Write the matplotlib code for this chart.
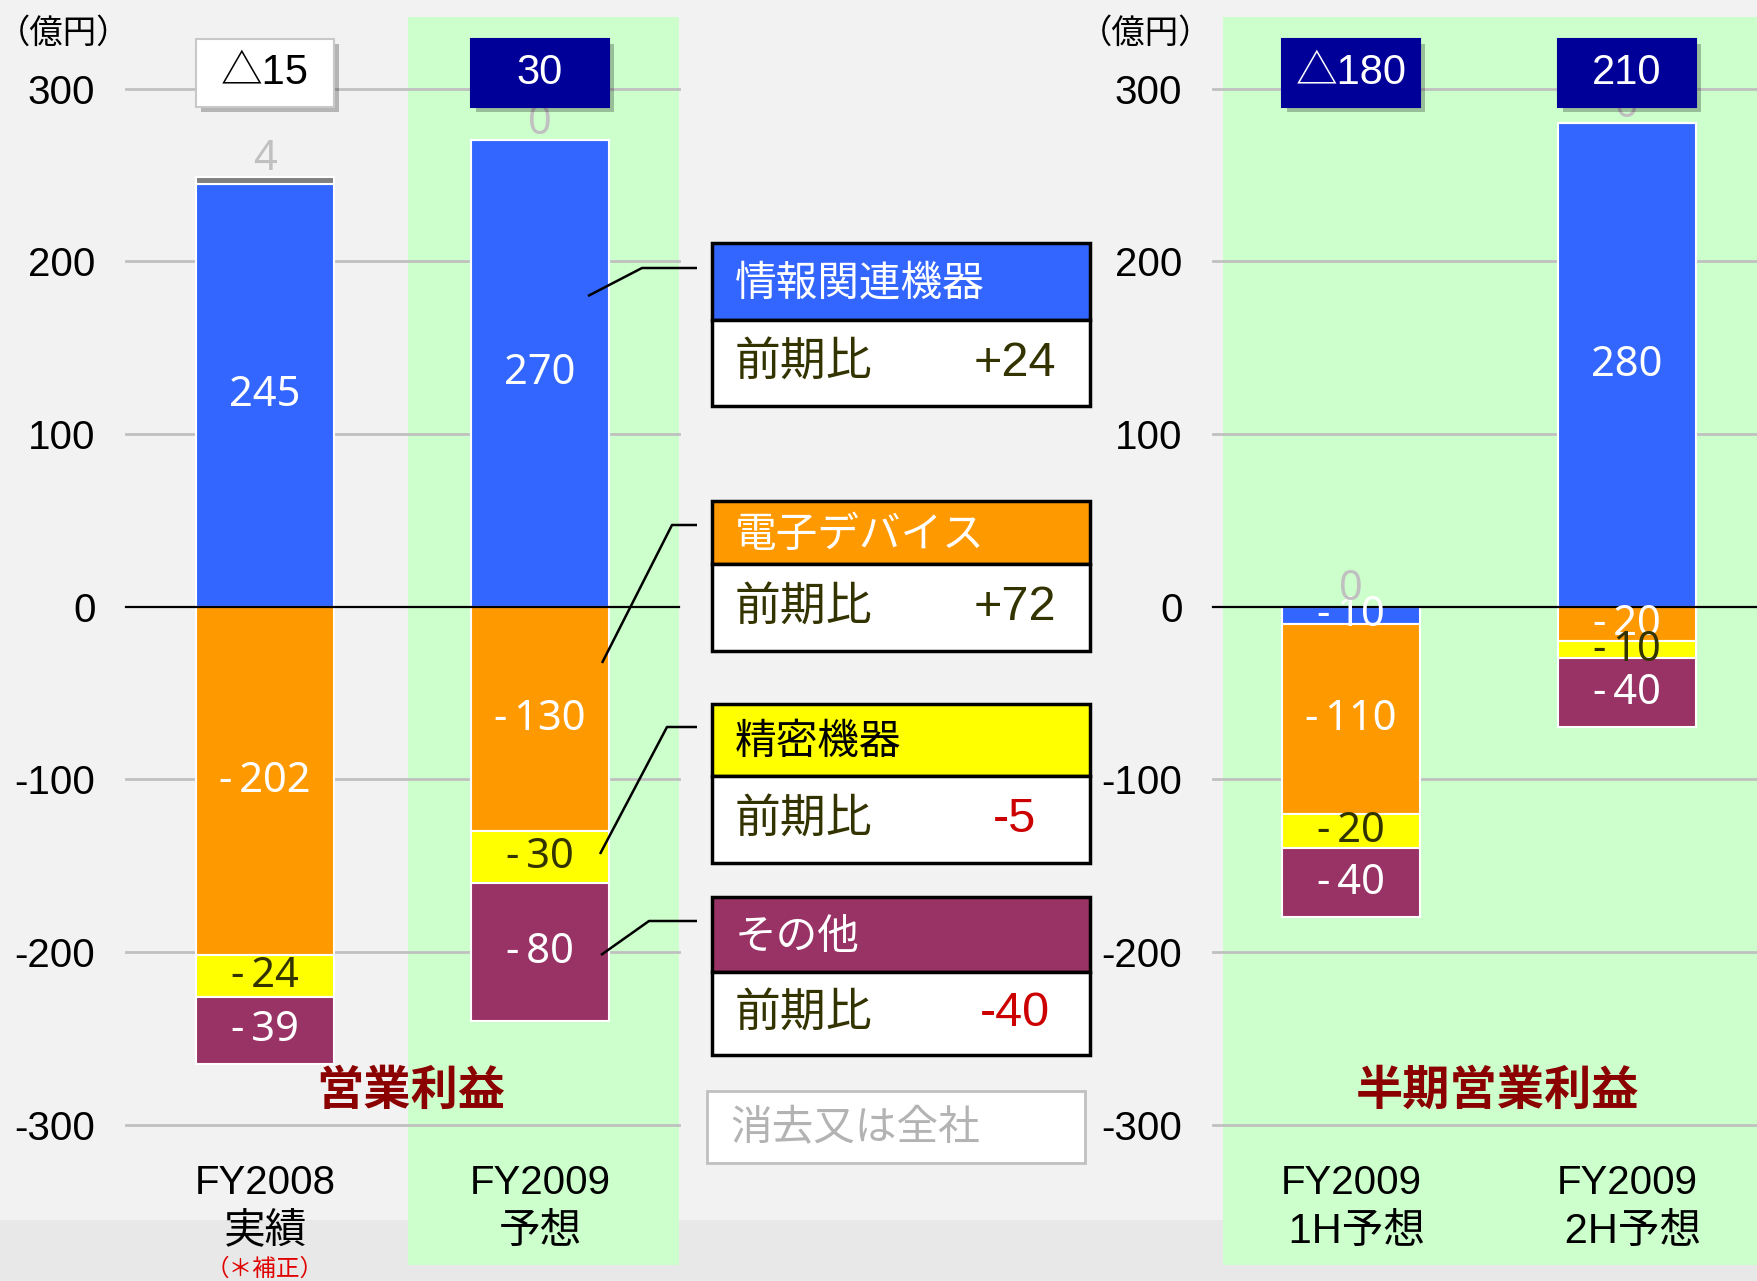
import numpy as np
import matplotlib
matplotlib.use('Agg')
import matplotlib.pyplot as plt
from matplotlib.patches import Rectangle
from matplotlib import patheffects as pe
from matplotlib.transforms import blended_transform_factory

plt.rcParams['font.family'] = ['Liberation Sans', 'Noto Sans CJK JP', 'DejaVu Sans']

# --- data -------------------------------------------------------------
segments = ['情報関連機器', '電子デバイス', '精密機器', 'その他']
seg_colors = ['#3366ff', '#ff9900', '#ffff00', '#993366', '#808080']
value_colors = ['white', 'white', '#333300', 'white', '#c0c0c0']
header_text_colors = ['white', 'white', 'black', 'white']

left_cats = [('FY2008', '実績'), ('FY2009', '予想')]
left_info = [245, 270]
left_device = [-202, -130]
left_precision = [-24, -30]
left_other = [-39, -80]
left_elim = [4, 0]
left_totals = ['△15', '30']
left_forecast = [False, True]

right_cats = [('FY2009', ' 1H予想'), ('FY2009', ' 2H予想')]
right_info = [-10, 280]
right_device = [-110, -20]
right_precision = [-20, -10]
right_other = [-40, -40]
right_elim = [0, 0]
right_totals = ['△180', '210']
right_forecast = [True, True]

yoy_values = ['+24', '+72', '-5', '-40']
yticks = [-300, -200, -100, 0, 100, 200, 300]

W, H = 1758, 1281
fig = plt.figure(figsize=(W / 100, H / 100), dpi=100)


def px_axes(x0, x1, y0, y1):
    return fig.add_axes([x0 / W, 1 - y1 / H, (x1 - x0) / W, (y1 - y0) / H])


# background
bg = px_axes(0, W, 0, H)
bg.set_xlim(0, W)
bg.set_ylim(H, 0)
bg.axis('off')
bg.add_patch(Rectangle((0, 0), W, H, fc='#f2f2f2', ec='none'))
bg.add_patch(Rectangle((0, 1220), W, H - 1220, fc='#e8e8e8', ec='none'))
bg.add_patch(Rectangle((408, 17), 271, 1248, fc='#ccffcc', ec='none'))
bg.add_patch(Rectangle((1223, 17), W - 1223, 1248, fc='#ccffcc', ec='none'))
bg.text(64, 34, '（億円）', ha='center', va='center', fontsize=24)
bg.text(1146, 34, '（億円）', ha='center', va='center', fontsize=24)

VAL_FONT = ['Noto Sans', 'DejaVu Sans']


def fmt(v):
    return '-\u2009' + str(abs(v)) if v < 0 else str(v)


def draw_panel(ax, cats, series, totals, forecast, title, note=None):
    ax.set_facecolor('none')
    ax.set_ylim(-300, 300)
    x = np.arange(len(cats))
    pos = np.zeros(len(cats))
    neg = np.zeros(len(cats))
    for i, vals in enumerate(series):
        vals = np.array(vals, dtype=float)
        bottom = np.where(vals >= 0, pos, neg)
        ax.bar(x, vals, 0.5, bottom=bottom, color=seg_colors[i],
               edgecolor='white', linewidth=1.5, zorder=2)
        if i < 4:
            for xi, b, v in zip(x, bottom, vals):
                ax.text(xi, b + v / 2, fmt(int(v)), ha='center', va='center',
                        color=value_colors[i], fontsize=30, zorder=4,
                        family=VAL_FONT)
        pos = np.where(vals >= 0, pos + vals, pos)
        neg = np.where(vals < 0, neg + vals, neg)
    # elimination labels above positive stack
    for xi, top, v in zip(x, pos, series[4]):
        ax.text(xi, top + 10, fmt(v), ha='center', va='center',
                color=value_colors[4], fontsize=30, zorder=4, family=VAL_FONT)

    for t in yticks:
        if t == 0:
            ax.axhline(0, color='black', lw=1.6, zorder=3, clip_on=False)
        else:
            ax.axhline(t, color='#c0c0c0', lw=2, zorder=1, clip_on=False)

    # total boxes
    for xi, lab, fc in zip(x, totals, forecast):
        face = '#000099' if fc else 'white'
        edge = '#000099' if fc else '#c8c8c8'
        tcol = 'white' if fc else 'black'
        r = Rectangle((xi - 0.25, 289.3), 0.5, 39.4, fc=face, ec=edge, lw=1.5,
                      zorder=5, clip_on=False,
                      path_effects=[pe.withSimplePatchShadow(offset=(3.5, -3.5),
                                                             shadow_rgbFace='black',
                                                             alpha=0.25)])
        ax.add_patch(r)
        ax.text(xi, 309, lab, ha='center', va='center', color=tcol,
                fontsize=30, zorder=6, clip_on=False)

    ax.set_yticks(yticks)
    ax.set_yticklabels([str(t) for t in yticks], fontsize=29)
    ax.tick_params(axis='y', length=0, pad=22)
    ax.set_xticks([])
    for s in ax.spines.values():
        s.set_visible(False)

    tr = blended_transform_factory(ax.transData, bg.transData)
    for xi, (l1, l2) in zip(x, cats):
        ax.text(xi, 1183, l1, transform=tr, ha='center', va='center',
                fontsize=29, clip_on=False)
        ax.text(xi, 1232, l2, transform=tr, ha='center', va='center',
                fontsize=30, clip_on=False)
    ax.text(0.53, 1093, title, transform=tr, ha='center', va='center',
            fontsize=34, color='#8b0000', weight='bold', clip_on=False)
    if note:
        ax.text(0, 1270, note, transform=tr, ha='center', va='center',
                fontsize=17, color='#e00000', clip_on=False)


axL = px_axes(126, 679, 88.6, 1124.6)
axL.set_xlim(-0.505, 1.505)
draw_panel(axL, left_cats,
           [left_info, left_device, left_precision, left_other, left_elim],
           left_totals, left_forecast, '営業利益', note='（＊補正）')

axR = px_axes(1213, W, 88.6, 1124.6)
axR.set_xlim(-0.5, 1.475)
draw_panel(axR, right_cats,
           [right_info, right_device, right_precision, right_other, right_elim],
           right_totals, right_forecast, '半期営業利益')

# legend boxes and leader lines
fg = px_axes(0, W, 0, H)
fg.set_xlim(0, W)
fg.set_ylim(H, 0)
fg.axis('off')

rows = [(243, 320, 406), (501, 564, 651), (704, 776, 863), (897, 972, 1055)]
for name, color, tcol, yoy, (top, mid, bot) in zip(segments, seg_colors,
                                                    header_text_colors, yoy_values, rows):
    fg.add_patch(Rectangle((712, top), 378, mid - top, fc=color, ec='black', lw=2.5))
    fg.add_patch(Rectangle((712, mid), 378, bot - mid, fc='white', ec='black', lw=2.5))
    fg.text(735, (top + mid) / 2 + 3, name, ha='left', va='center', fontsize=30, color=tcol)
    fg.text(735, (mid + bot) / 2, '前期比', ha='left', va='center', fontsize=33,
            color='#333300')
    fg.text(1015, (mid + bot) / 2, yoy, ha='center', va='center', fontsize=35,
            color='#cc0000' if yoy.startswith('-') else '#333300')

fg.add_patch(Rectangle((707, 1091), 378, 72, fc='white', ec='#c0c0c0', lw=2))
fg.text(730, 1129, '消去又は全社', ha='left', va='center', fontsize=30, color='#b3b3b3')

leaders = [([697, 642, 588], [268, 268, 296]),
           ([697, 672, 602], [525, 525, 663]),
           ([697, 667, 600], [727, 727, 854]),
           ([697, 649, 601], [921, 921, 955])]
for lx, ly in leaders:
    fg.plot(lx, ly, color='black', lw=1.8, solid_capstyle='butt')

fig.savefig('out.png', dpi=100, facecolor='#f2f2f2')
